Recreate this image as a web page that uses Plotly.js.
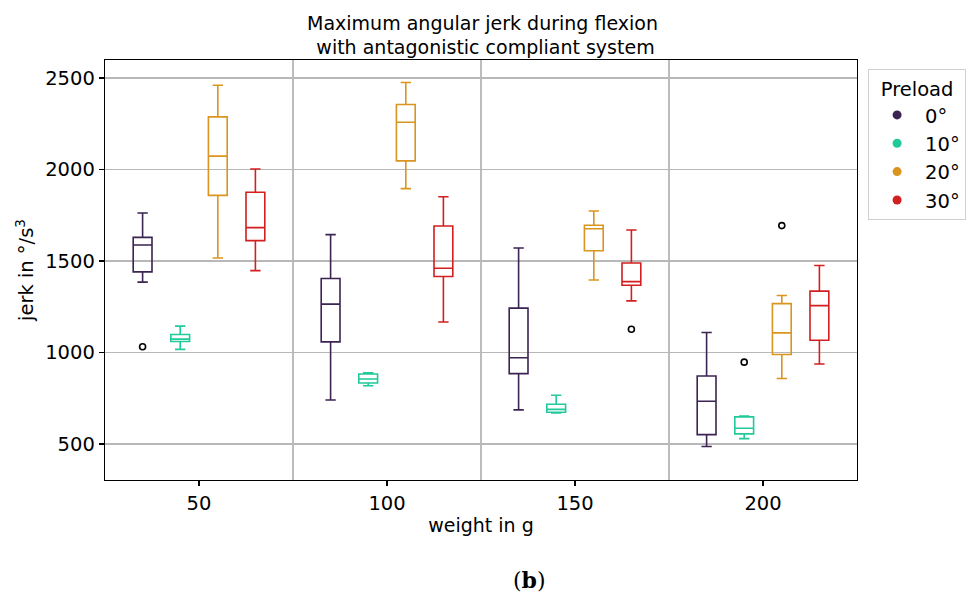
<!DOCTYPE html>
<html>
<head>
<meta charset="utf-8">
<script src="https://cdn.plot.ly/plotly-3.0.1.min.js"></script>
<style>
  html, body { margin: 0; padding: 0; background: #fff; }
  #chart { width: 971px; height: 593px; }
</style>
</head>
<body>
<div id="chart"></div>
<script>
// Weight groups (g) and preload angles
const weights = [50, 100, 150, 200];
const preloads = ['0°', '10°', '20°', '30°'];
const offsets = [-15, -5, 5, 15];           // box position within each weight group
const colors = ['#3b2352', '#22c99b', '#d9951f', '#d21f1f'];
const dividers = [75, 125, 175];

// Box statistics per preload, one entry per weight group
const upper0 = [1762, 1644, 1571, 1109];
const q3_0   = [1629, 1404, 1242, 871];
const med0   = [1587, 1264, 971, 733];
const q1_0   = [1440, 1058, 884, 551];
const lower0 = [1384, 740, 686, 486];

const upper10 = [1144, 889, 766, 653];
const q3_10   = [1098, 882, 717, 648];
const med10   = [1073, 855, 689, 586];
const q1_10   = [1060, 833, 673, 555];
const lower10 = [1017, 818, 670, 529];

const upper20 = [2460, 2475, 1773, 1311];
const q3_20   = [2287, 2355, 1695, 1267];
const med20   = [2073, 2258, 1676, 1107];
const q1_20   = [1858, 2047, 1556, 989];
const lower20 = [1516, 1895, 1396, 858];

const upper30 = [2002, 1851, 1669, 1475];
const q3_30   = [1875, 1691, 1489, 1335];
const med30   = [1682, 1460, 1387, 1256];
const q1_30   = [1611, 1415, 1367, 1067];
const lower30 = [1447, 1166, 1282, 937];

// Outliers: weight group, preload index, value
const outlierWeight = [50, 150, 200, 200];
const outlierPreload = [0, 3, 1, 2];
const outlierValue = [1031, 1127, 947, 1693];

const stats = [
  [upper0, q3_0, med0, q1_0, lower0],
  [upper10, q3_10, med10, q1_10, lower10],
  [upper20, q3_20, med20, q1_20, lower20],
  [upper30, q3_30, med30, q1_30, lower30]
];

const traces = [];
stats.forEach((s, i) => {
  traces.push({
    type: 'box',
    x: weights.map(w => w + offsets[i]),
    upperfence: s[0], q3: s[1], median: s[2], q1: s[3], lowerfence: s[4],
    width: 5,
    whiskerwidth: 0.55,
    line: { color: colors[i], width: 1.6 },
    fillcolor: 'rgba(255,255,255,0)',
    showlegend: false,
    hoverinfo: 'skip'
  });
});

traces.push({
  type: 'scatter',
  mode: 'markers',
  x: outlierWeight.map((w, k) => w + offsets[outlierPreload[k]]),
  y: outlierValue,
  marker: { symbol: 'circle-open', size: 6, color: '#000', line: { width: 1.6, color: '#000' } },
  showlegend: false,
  hoverinfo: 'skip'
});

// Legend entries with round markers
preloads.forEach((p, i) => {
  traces.push({
    type: 'scatter', mode: 'markers', x: [null], y: [null],
    name: p,
    marker: { color: colors[i], size: 9 },
    showlegend: true
  });
});

const shapes = dividers.map(d => ({
  type: 'line', xref: 'x', yref: 'paper', x0: d, x1: d, y0: 0, y1: 1,
  line: { color: '#7a7a7a', width: 1 }, layer: 'below'
}));

const font = { family: 'DejaVu Sans, sans-serif', color: '#000' };

const layout = {
  width: 971, height: 593,
  margin: { l: 105, r: 114, t: 60, b: 113 },
  paper_bgcolor: '#fff', plot_bgcolor: '#fff',
  font: Object.assign({ size: 19 }, font),
  title: {
    text: 'Maximum angular jerk during flexion<br> with antagonistic compliant system',
    x: 0.502, xref: 'paper', xanchor: 'center',
    y: 0.95, yref: 'container', yanchor: 'top',
    font: Object.assign({ size: 19 }, font)
  },
  xaxis: {
    range: [25, 225],
    tickvals: weights,
    ticks: 'outside', ticklen: 5, tickwidth: 1.2, tickcolor: '#000',
    showgrid: false, zeroline: false,
    showline: true, mirror: true, linecolor: '#000', linewidth: 1.3,
    tickfont: Object.assign({ size: 19.5 }, font),
    title: { text: 'weight in g', font: Object.assign({ size: 19 }, font), standoff: 5 }
  },
  yaxis: {
    range: [303, 2598],
    tickvals: [500, 1000, 1500, 2000, 2500],
    ticks: 'outside', ticklen: 5, tickwidth: 1.2, tickcolor: '#000',
    showgrid: true, gridcolor: '#b8b8b8', gridwidth: 1.4,
    zeroline: false,
    showline: true, mirror: true, linecolor: '#000', linewidth: 1.3,
    tickfont: Object.assign({ size: 19.5 }, font),
    title: { text: 'jerk in °/s<sup>3</sup>', font: Object.assign({ size: 19.5 }, font), standoff: 6 }
  },
  legend: {
    xref: 'container', yref: 'container',
    x: 0.894, xanchor: 'left', y: 0.883, yanchor: 'top',
    bordercolor: '#d0d0d0', borderwidth: 1, bgcolor: '#fff',
    font: Object.assign({ size: 19.5 }, font),
    title: { text: 'Preload', font: Object.assign({ size: 19.5 }, font), side: 'top center' },
    itemwidth: 46,
    tracegroupgap: 4
  },
  shapes: shapes,
  annotations: [{
    text: '(<b>b</b>)', xref: 'paper', yref: 'paper',
    x: 0.564, y: -0.238, xanchor: 'center', yanchor: 'middle', showarrow: false,
    font: { family: 'DejaVu Serif, Liberation Serif, serif', size: 22, color: '#000' }
  }]
};

Plotly.newPlot('chart', traces, layout, { displayModeBar: false, staticPlot: true });
</script>
</body>
</html>
